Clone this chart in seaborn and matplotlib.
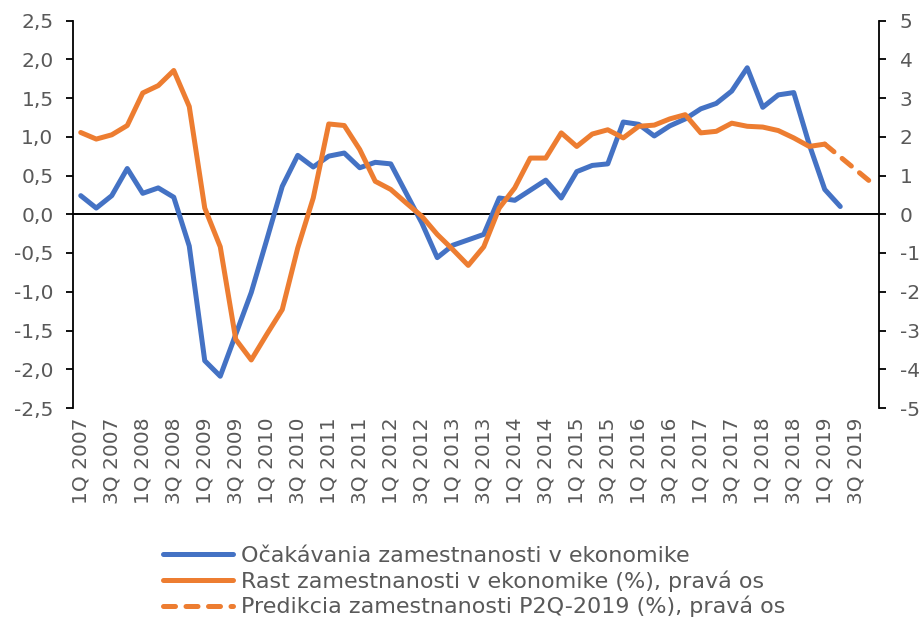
import pandas as pd
import seaborn as sns
import matplotlib.pyplot as plt

sns.set_style("white")
plt.rcParams["font.family"] = ["DejaVu Sans"]

BLUE = "#4472C4"
ORANGE = "#ED7D31"
GREY = "#595959"

# quarters 1Q 2007 .. 4Q 2019
quarters = [f"{q}Q {y}" for y in range(2007, 2020) for q in range(1, 5)]

# ocakavania zamestnanosti (lava os), 1Q 2007 .. 2Q 2019
expectations = [
    0.24, 0.08, 0.24, 0.59, 0.27, 0.34, 0.22, -0.41, -1.89, -2.09,
    -1.55, -1.01, -0.33, 0.36, 0.76, 0.61, 0.75, 0.79, 0.60, 0.67,
    0.65, 0.27, -0.11, -0.56, -0.40, -0.33, -0.26, 0.21, 0.18, 0.31,
    0.44, 0.21, 0.55, 0.63, 0.65, 1.19, 1.16, 1.01, 1.14, 1.23,
    1.36, 1.43, 1.59, 1.89, 1.38, 1.54, 1.57, 0.90, 0.32, 0.10,
]

# rast zamestnanosti (prava os), 1Q 2007 .. 1Q 2019
growth = [
    2.11, 1.94, 2.05, 2.29, 3.13, 3.32, 3.71, 2.78, 0.16, -0.84,
    -3.23, -3.76, -3.10, -2.46, -0.87, 0.42, 2.33, 2.29, 1.67, 0.85,
    0.64, 0.29, -0.05, -0.52, -0.91, -1.32, -0.84, 0.16, 0.68, 1.45,
    1.45, 2.10, 1.75, 2.07, 2.18, 1.97, 2.27, 2.30, 2.46, 2.57,
    2.10, 2.14, 2.35, 2.27, 2.25, 2.16, 1.97, 1.75, 1.81,
]

# predikcia (prava os), 1Q 2019 .. 4Q 2019
prediction = [1.81, 1.48, 1.15, 0.82]
prediction_start = 48

labels = [
    "Očakávania zamestnanosti v ekonomike",
    "Rast zamestnanosti v ekonomike (%), pravá os",
    "Predikcia zamestnanosti P2Q-2019 (%), pravá os",
]

df_exp = pd.DataFrame({"pos": range(len(expectations)), "value": expectations})
df_growth = pd.DataFrame({"pos": range(len(growth)), "value": growth})
df_pred = pd.DataFrame({
    "pos": range(prediction_start, prediction_start + len(prediction)),
    "value": prediction,
})

fig = plt.figure(figsize=(9.21, 6.2), dpi=100)
ax = fig.add_axes([73 / 921, 1 - 408 / 620, 806 / 921, 387.5 / 620])
ax2 = ax.twinx()

ax.axhline(0, color="black", lw=1.4, zorder=0)

lw = 3.6
sns.lineplot(data=df_exp, x="pos", y="value", ax=ax, color=BLUE, lw=lw,
             solid_capstyle="round", solid_joinstyle="round", label=labels[0])
sns.lineplot(data=df_growth, x="pos", y="value", ax=ax2, color=ORANGE, lw=lw,
             solid_capstyle="round", solid_joinstyle="round", label=labels[1])
sns.lineplot(data=df_pred, x="pos", y="value", ax=ax2, color=ORANGE, lw=lw,
             linestyle=(0, (2.4, 2.1)), dash_capstyle="round", label=labels[2])

handles = ax.get_legend_handles_labels()[0] + ax2.get_legend_handles_labels()[0]
ax.get_legend().remove()
ax2.get_legend().remove()

ax.set_xlim(-0.5, len(quarters) - 0.5)
ax.set_ylim(-2.5, 2.5)
ax2.set_ylim(-5, 5)

left_ticks = [-2.5, -2.0, -1.5, -1.0, -0.5, 0.0, 0.5, 1.0, 1.5, 2.0, 2.5]
ax.set_yticks(left_ticks)
ax.set_yticklabels([f"{v:.1f}".replace(".", ",") for v in left_ticks])
right_ticks = list(range(-5, 6))
ax2.set_yticks(right_ticks)
ax2.set_yticklabels([str(v) for v in right_ticks])

ax.set_xticks(range(0, len(quarters), 2))
ax.set_xticklabels(quarters[::2], rotation=90)

for a in (ax, ax2):
    a.set_xlabel("")
    a.set_ylabel("")
    for s in ("top", "bottom"):
        a.spines[s].set_visible(False)
ax.spines["right"].set_visible(False)
ax2.spines["left"].set_visible(False)
ax.spines["left"].set_color("black")
ax.spines["left"].set_linewidth(1.3)
ax2.spines["right"].set_color("black")
ax2.spines["right"].set_linewidth(1.3)

ax.tick_params(axis="y", left=True, direction="out", length=5, width=1.3,
               color="black", labelcolor=GREY, labelsize=14.5, pad=9)
ax2.tick_params(axis="y", right=True, direction="out", length=5, width=1.3,
                color="black", labelcolor=GREY, labelsize=14.5, pad=10)
ax.tick_params(axis="x", bottom=False, length=0, labelcolor=GREY,
               labelsize=14.5, pad=7)

fig.legend(handles, labels, loc="upper left",
           bbox_to_anchor=(163 / 921, 1 - 546 / 620), frameon=False,
           fontsize=16, labelcolor=GREY, handlelength=3.15,
           handletextpad=0.36, labelspacing=0.19, borderpad=0,
           borderaxespad=0)

fig.savefig("out.png", dpi=100)
